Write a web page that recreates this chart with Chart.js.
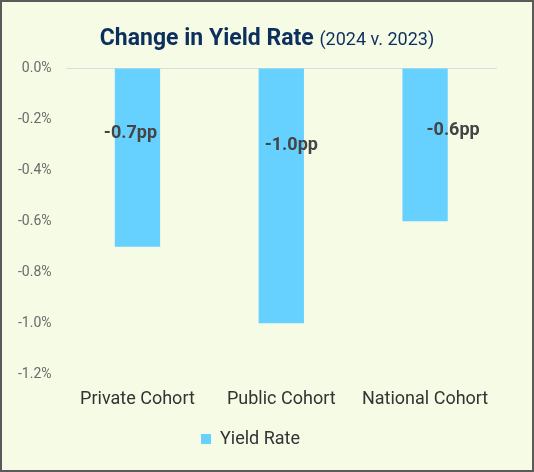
<!DOCTYPE html>
<html>
<head>
<meta charset="utf-8">
<script src="https://cdn.jsdelivr.net/npm/chart.js@4"></script>
<style>
  html, body { margin: 0; padding: 0; }
  #frame {
    width: 534px; height: 472px; box-sizing: border-box;
    border: 2px solid #5a5a5a; background: #f6fbe6;
  }
  canvas { display: block; }
</style>
</head>
<body>
<div id="frame"><canvas id="chart" width="530" height="468"></canvas></div>
<script>
const categories = ["Private Cohort", "Public Cohort", "National Cohort"];
const yieldChange = [-0.7, -1.0, -0.6];
const valueLabels = ["-0.7pp", "-1.0pp", "-0.6pp"];
const seriesName = "Yield Rate";
const titleMain = "Change in Yield Rate";
const titleSub = "(2024 v. 2023)";

const fontFamily = "Roboto, 'Noto Sans', sans-serif";

// draws the two-part title and the value labels
const extras = {
  id: "extras",
  afterDatasetsDraw(chart, args, opts) {
    const ctx = chart.ctx;
    ctx.save();
    // title
    ctx.textBaseline = "middle";
    ctx.font = "bold 23px " + fontFamily;
    const w1 = ctx.measureText(titleMain + " ").width;
    ctx.font = "18px " + fontFamily;
    const w2 = ctx.measureText(titleSub).width;
    let x = (chart.width - w1 - w2) / 2;
    ctx.fillStyle = "#0d2f5e";
    ctx.textAlign = "left";
    ctx.font = "bold 23px " + fontFamily;
    ctx.fillText(titleMain, x, 37);
    ctx.font = "18px " + fontFamily;
    ctx.fillText(titleSub, x + w1, 38);

    // value labels
    const meta = chart.getDatasetMeta(0);
    ctx.font = "bold 18px " + fontFamily;
    ctx.fillStyle = "#444444";
    ctx.textAlign = "center";
    meta.data.forEach((bar, i) => {
      const off = opts.offsets[i];
      const top = chart.scales.y.getPixelForValue(0);
      ctx.fillText(valueLabels[i], bar.x + off[0], top + off[1]);
    });
    ctx.restore();
  }
};

new Chart(document.getElementById("chart"), {
  type: "bar",
  data: {
    labels: categories,
    datasets: [{
      label: seriesName,
      data: yieldChange,
      backgroundColor: "#66d0ff",
      barPercentage: 0.63,
      categoryPercentage: 0.5
    }]
  },
  options: {
    responsive: false,
    animation: false,
    layout: { padding: { top: 66, right: 35, left: 2, bottom: 12 } },
    plugins: {
      legend: {
        position: "bottom",
        labels: {
          boxWidth: 10, boxHeight: 10, color: "#333",
          font: { family: fontFamily, size: 18 },
          padding: 14
        }
      },
      tooltip: { enabled: false },
      extras: { offsets: [[-7, 65], [10, 77], [28, 62]] }
    },
    scales: {
      y: {
        min: -1.2, max: 0,
        border: { display: false },
        grid: {
          drawTicks: false,
          color: (c) => c.tick && c.tick.value === 0 ? "#d8dde0" : "transparent"
        },
        ticks: {
          stepSize: 0.2,
          padding: 14,
          color: "#6b6b6b",
          font: { family: fontFamily, size: 14 },
          callback: (v) => v.toFixed(1) + "%"
        }
      },
      x: {
        border: { display: false },
        grid: { display: false },
        ticks: {
          padding: 6,
          color: "#333",
          font: { family: fontFamily, size: 18 }
        }
      }
    }
  },
  plugins: [extras]
});
</script>
</body>
</html>
